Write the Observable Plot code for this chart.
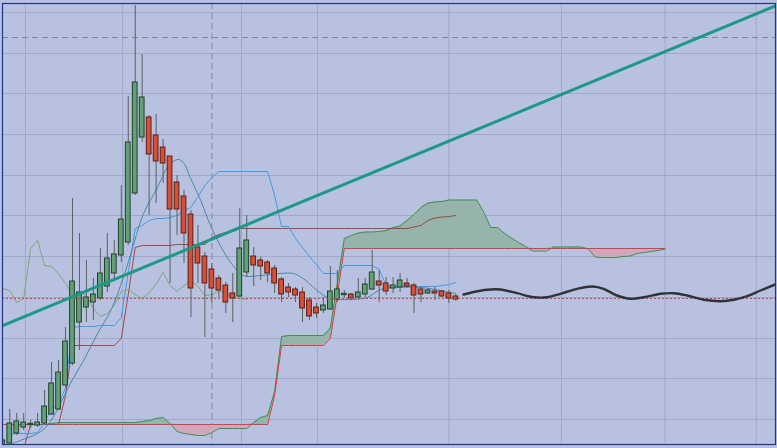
<!DOCTYPE html>
<html>
<head>
<meta charset="utf-8">
<script src="https://cdn.jsdelivr.net/npm/d3@7"></script>
<script src="https://cdn.jsdelivr.net/npm/@observablehq/plot@0.6"></script>
<style>
  html, body { margin: 0; padding: 0; background: #b8c2e0; }
  #chart svg { display: block; }
</style>
</head>
<body>
<div id="chart"></div>
<script>
// ---- Candles (index = bar number, values in chart price units) ----
const open  = [4,7,17,23,26,25,27,36,41,65,87,128,143,148,152,164,177,195,208,257,313,333,315,303,294,268,254,236,203,194,181,172,165,157,154,178,194,190,188,182,171,163,161,158,150,143,140,141,151,156,156,153,156,161,169,167,162,163,167,165,161,157,159,159,157,154];
const high  = [12,41,37,37,30,37,60,88,90,123,252,217,190,172,202,217,210,265,354,445,396,335,336,311,294,275,260,240,225,198,187,175,168,177,242,235,203,193,190,185,173,167,163,163,153,147,153,184,180,160,157,172,172,200,180,173,173,177,172,167,163,162,163,160,160,156];
const low   = [2,5,15,20,22,23,25,35,40,63,85,100,128,130,150,158,170,188,205,255,308,235,247,267,167,215,187,133,167,113,147,153,137,128,153,173,164,170,168,157,148,153,148,128,130,132,137,140,148,152,150,152,153,160,148,155,157,158,162,137,148,156,150,153,147,149];
const close = [10,27,29,28,26,28,44,67,78,109,169,158,153,156,177,192,196,231,308,368,353,296,289,287,241,241,217,162,187,167,162,160,148,152,202,210,185,184,177,167,156,158,155,142,134,137,145,159,161,156,152,158,166,178,165,159,165,170,164,155,156,160,157,154,152,151];

// ---- Ichimoku lines (per bar index; null = not drawn) ----
const tenkan = [null,16,17,17,17,18,28,42,45,63,123,124,124,124,125,125,125,133,178,222,225,230,232,232,233,235,240,243,254,265,273,279,279,279,279,279,279,279,279,255,224,224,212,203,194,186,177,177,177,185,185,185,185,185,181,165,164,164,164,164,164,164,164,165,166,168];
const kijun = [null,null,null,2,26,26,26,26,26,55,105,105,105,105,105,105,105,112,156,203,205,205,205,205,205,206,206,206,206,206,213,216,218,219,222,222,222,222,222,222,222,222,222,222,222,222,222,222,222,222,222,222,222,222,222,222,222,222,222,223.5,225,230,232.5,233.5,234,235];
const senkouA = [null,null,null,null,null,null,26,27,28,28,28,28,28,28,28,28,28,28,28,28,29,30,32,33,27,19,17,16,15,15,18,22,22,22,22,22,28,33,35,59,114,115,115,115,115,115,115,122.5,167,212,215,217.5,218.5,218.5,219,220,223,224.5,230,236,243,247.5,248.5,249,250.5,250.5,250.5,250.5,250.5,238.5,223,223,217,212.5,208,204,199.5,199.5,199.5,203.5,203.5,203.5,203.5,203.5,201.5,193.5,193,193,193,194,194.5,197,198,199,200,201.5];
const senkouB = [26,26,26,26,26,26,26,26,26,26,26,26,26,26,26,26,26,26,26,26,26,26,26,26,26,26,26,26,26,26,26,26,26,26,26,26,26,26,26,55,105,105,105,105,105,105,105,112,156,202,202,202,202,202,202,202,202,202,202,202,202,202,202,202,202,202,202,202,202,202,202,202,202,202,202,202,202,202,202,202,202,202,202,202,202,202,202,202,202,202,202,202,202,202,202,202];
const chikouShift = 30;

// ---- Moving average (traced) ----
const maIdx = [0,0.7,2.5,5,6.4,8,9.7,11.6,13.6,15.5,17.3,18.3,20.2,22.2,23.6,25.1,25.9,26.9,28.4,29.8,31.2,32.7,34.5,37,39.8,41.7,43.1,45.1,46.6,48.5,50.3,52.3,54.2,56.1,60,62.8,65];
const maVal = [3,5,10,17,25,43,67,90,117,140,173,195,237,263,283,291,288,273,250,225,205,188,175,175,177,177,172,160,153,151,151,153,161,163,163,160,157];

// ---- Drawings ----
const trendIdx = [-0.3, 111];
const trendVal = [124, 445];
const waveIdx = [66.1,68.1,70.0,71.4,73.8,76.2,78.1,80.0,82.4,84.6,86.2,88.1,90.1,92.0,94.4,96.3,98.2,100.6,103.0,104.9,106.8,108.7,111.1];
const waveVal = [156,159.3,161,161,157.3,153.3,153.3,156.7,161.7,164,161.7,155,151.7,153.3,156.7,157.3,155,150.7,149.3,150.7,154.3,160,166.7];
const lastPrice = 152;
const crossIdx = 30;
const crossVal = 413;

// ---- Grid ----
const gridVals = [31,72,112,153,194,235,275,316,357,397,438];
const gridIdx = [3.25,17.2,34.25,45.15,64,80.15,95,108.1];

// ---- Build tables ----
const candles = open.map((o, i) => ({i, o, h: high[i], l: low[i], c: close[i]}));
const up = candles.filter(d => d.c >= d.o);
const down = candles.filter(d => d.c < d.o);
const series = arr => arr.map((v, i) => ({i, v})).filter(d => d.v != null);
const cloud = senkouB.map((b, i) => ({i, a: senkouA[i], b})).filter(d => d.a != null);
const chikou = close.map((c, j) => ({i: j - chikouShift, v: c})).filter(d => d.i >= -1);
const ma = maIdx.map((i, k) => ({i, v: maVal[k]}));
const trend = trendIdx.map((i, k) => ({i, v: trendVal[k]}));
const wave = waveIdx.map((i, k) => ({i, v: waveVal[k]}));

const bw = 0.34;
const bodyY1 = d => Math.min(d.o, d.c) - (Math.abs(d.o - d.c) < 1 ? 0.7 : 0);
const bodyY2 = d => Math.max(d.o, d.c) + (Math.abs(d.o - d.c) < 1 ? 0.7 : 0);

const chart = Plot.plot({
  width: 777,
  height: 448,
  marginLeft: 2,
  marginRight: 2,
  marginTop: 3,
  marginBottom: 4,
  style: {background: "#b8c2e0"},
  x: {domain: [-0.04, 110.86], axis: null},
  y: {domain: [6, 447], axis: null},
  marks: [
    Plot.ruleY(gridVals, {stroke: "#9ea9c8", strokeWidth: 1}),
    Plot.ruleX(gridIdx, {stroke: "#9ea9c8", strokeWidth: 1}),
    Plot.ruleX([crossIdx], {stroke: "#80869a", strokeDasharray: "6,4", strokeWidth: 1}),
    Plot.ruleY([crossVal], {stroke: "#80869a", strokeDasharray: "6,4", strokeWidth: 1}),
    // cloud
    Plot.areaY(cloud, {x: "i", y1: "b", y2: d => Math.max(d.a, d.b), fill: "#96b4ab", clip: true}),
    Plot.areaY(cloud, {x: "i", y1: "a", y2: d => Math.max(d.a, d.b), fill: "#d0a7bb", clip: true}),
    Plot.line(series(senkouA), {x: "i", y: "v", stroke: "#3d8e50", strokeWidth: 1, clip: true}),
    Plot.line(series(senkouB), {x: "i", y: "v", stroke: "#e03a3c", strokeWidth: 1, clip: true}),
    Plot.line(series(kijun), {x: "i", y: "v", stroke: "#a04646", strokeWidth: 1, clip: true}),
    Plot.line(series(tenkan), {x: "i", y: "v", stroke: "#3f9ae6", strokeWidth: 1, clip: true}),
    Plot.line(ma, {x: "i", y: "v", stroke: "#4a84ac", strokeWidth: 1, curve: "catmull-rom", clip: true}),
    Plot.line(chikou, {x: "i", y: "v", stroke: "#7ea873", strokeWidth: 1, clip: true}),
    // candles
    Plot.ruleX(candles, {x: "i", y1: "l", y2: "h", stroke: "#56625e", strokeWidth: 1, clip: true}),
    Plot.rect(up, {x1: d => d.i - bw, x2: d => d.i + bw, y1: bodyY1, y2: bodyY2, fill: "#62a076", stroke: "#213f2c", strokeWidth: 1, clip: true}),
    Plot.rect(down, {x1: d => d.i - bw, x2: d => d.i + bw, y1: bodyY1, y2: bodyY2, fill: "#d84f38", stroke: "#5e1c12", strokeWidth: 1, clip: true}),
    // price line and drawings
    Plot.ruleY([lastPrice], {stroke: "#d8403f", strokeDasharray: "2,2", strokeWidth: 1}),
    Plot.line(trend, {x: "i", y: "v", stroke: "#1e9886", strokeWidth: 3, clip: true}),
    Plot.line(wave, {x: "i", y: "v", stroke: "#2f3337", strokeWidth: 2.4, curve: "catmull-rom", clip: true}),
    Plot.frame({stroke: "#24348c", strokeWidth: 1.2})
  ]
});
document.getElementById("chart").append(chart);
</script>
</body>
</html>
